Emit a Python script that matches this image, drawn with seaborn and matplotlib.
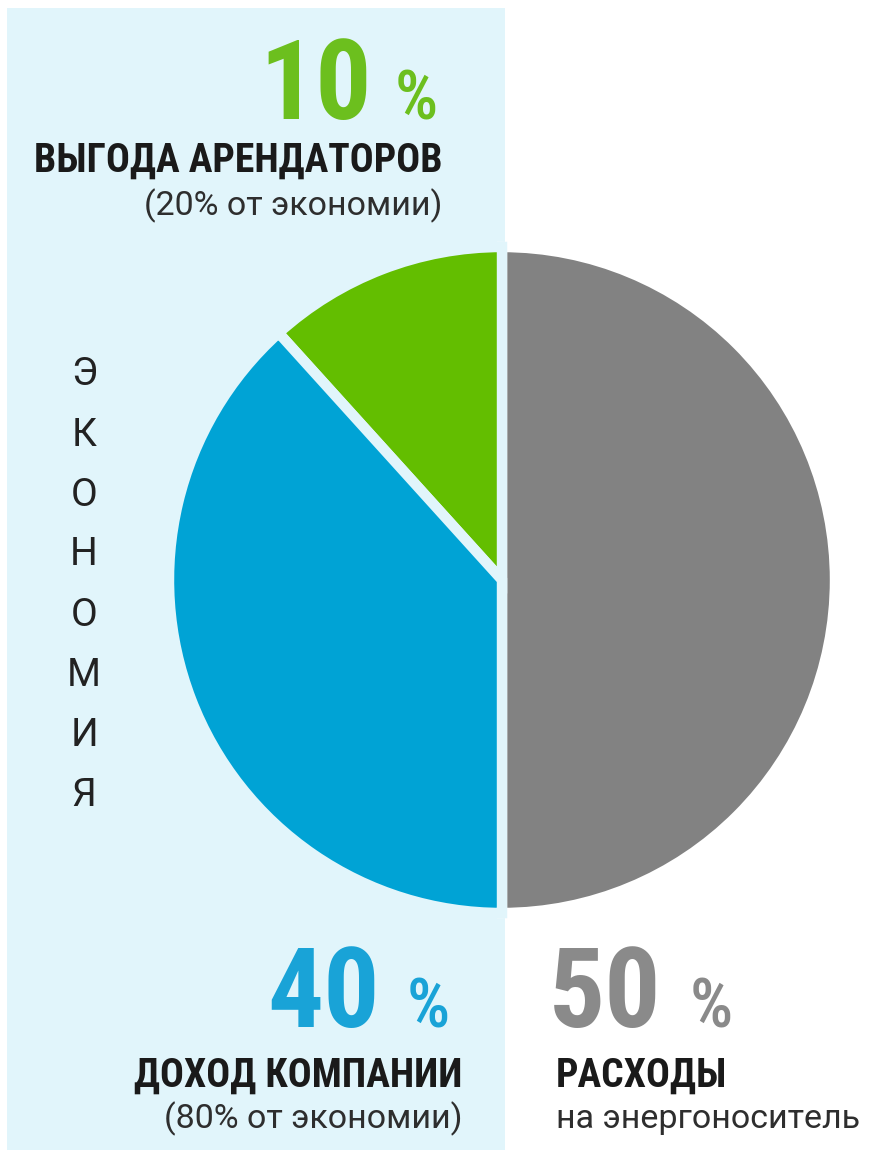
import matplotlib
matplotlib.use("Agg")
import matplotlib.pyplot as plt
from matplotlib import font_manager
from matplotlib.patches import Rectangle
import seaborn as sns

# ---- data ----
segments = ["ВЫГОДА АРЕНДАТОРОВ", "ДОХОД КОМПАНИИ", "РАСХОДЫ"]
slice_shares = [11.7, 38.3, 50.0]          # as drawn in the picture
pct_labels = ["10", "40", "50"]
sub_labels = ["(20% от экономии)", "(80% от экономии)", "на энергоноситель"]
side_label = "ЭКОНОМИЯ"
slice_colors = ["#63be00", "#00a3d5", "#828282"]
text_colors = ["#6cbf1e", "#19a3d7", "#8a8a8a"]
panel_color = "#e1f5fb"

sns.set_theme(style="white")
names = {f.name for f in font_manager.fontManager.ttflist}
NARROW = None
for cand in ["Roboto Condensed", "Liberation Sans Narrow", "Open Sans Condensed"]:
    if cand in names:
        NARROW = dict(family=cand)
        break
if NARROW is None:
    NARROW = dict(family="DejaVu Sans", fontstretch="condensed")
REG = dict(family="Roboto" if "Roboto" in names else "DejaVu Sans")

W, H = 874, 1152
fig = plt.figure(figsize=(W / 100, H / 100), dpi=100)
fig.patch.set_facecolor("white")

def fx(x):
    return x / W

def fy(y):
    return 1 - y / H

# light blue "economy" panel
fig.patches.append(Rectangle((fx(7), fy(1150)), fx(505) - fx(7), fy(8) - fy(1150),
                             transform=fig.transFigure, facecolor=panel_color,
                             edgecolor="none", zorder=-10))

# pie
cx, cy, r = 502, 580, 333
ax = fig.add_axes([fx(cx - r), fy(cy + r), 2 * r / W, 2 * r / H])
ax.set_zorder(5)
ax.set_facecolor("none")
wedges, _ = ax.pie(slice_shares, colors=slice_colors, startangle=90, counterclock=True,
                   radius=1.0, wedgeprops=dict(linewidth=7.5, edgecolor=panel_color))
wedges[2].set_edgecolor("white")
wedges[2].set_zorder(1)
wedges[0].set_zorder(2)
wedges[1].set_zorder(2)
ax.set_xlim(-1, 1)
ax.set_ylim(-1, 1)
ax.set_aspect("auto")
ax.axis("off")

BIG, PCT, BOLD, SUB = 80, 49, 28.5, 24.5
DARK, SUBC = "#1a1a1a", "#2e2e2e"

# top label (green)
fig.text(fx(372), fy(119), pct_labels[0], color=text_colors[0], fontsize=BIG, fontweight="bold",
         ha="right", va="baseline", **NARROW)
fig.text(fx(395), fy(119), "%", color=text_colors[0], fontsize=PCT, fontweight="medium",
         ha="left", va="baseline", **NARROW)
fig.text(fx(443), fy(172), segments[0], color=DARK, fontsize=BOLD, fontweight="bold",
         ha="right", va="baseline", **NARROW)
fig.text(fx(442), fy(215), sub_labels[0], color=SUBC, fontsize=SUB,
         ha="right", va="baseline", **REG)

# bottom-left (blue)
fig.text(fx(380), fy(1027), pct_labels[1], color=text_colors[1], fontsize=BIG, fontweight="bold",
         ha="right", va="baseline", **NARROW)
fig.text(fx(407), fy(1027), "%", color=text_colors[1], fontsize=PCT, fontweight="medium",
         ha="left", va="baseline", **NARROW)
fig.text(fx(462), fy(1087), segments[1], color=DARK, fontsize=BOLD, fontweight="bold",
         ha="right", va="baseline", **NARROW)
fig.text(fx(463), fy(1128), sub_labels[1], color=SUBC, fontsize=SUB,
         ha="right", va="baseline", **REG)

# bottom-right (gray)
fig.text(fx(549), fy(1027), pct_labels[2], color=text_colors[2], fontsize=BIG, fontweight="bold",
         ha="left", va="baseline", **NARROW)
fig.text(fx(690), fy(1027), "%", color=text_colors[2], fontsize=PCT, fontweight="medium",
         ha="left", va="baseline", **NARROW)
fig.text(fx(556), fy(1087), segments[2], color=DARK, fontsize=BOLD, fontweight="bold",
         ha="left", va="baseline", **NARROW)
fig.text(fx(556), fy(1128), sub_labels[2], color=SUBC, fontsize=SUB,
         ha="left", va="baseline", **REG)

# vertical side label
y0, step = 375, 60
for i, ch in enumerate(side_label):
    fig.text(fx(84), fy(y0 + i * step), ch, color="#222222", fontsize=28, fontweight="normal",
             ha="center", va="center", **REG)

fig.savefig("out.png", dpi=100, facecolor="white")
